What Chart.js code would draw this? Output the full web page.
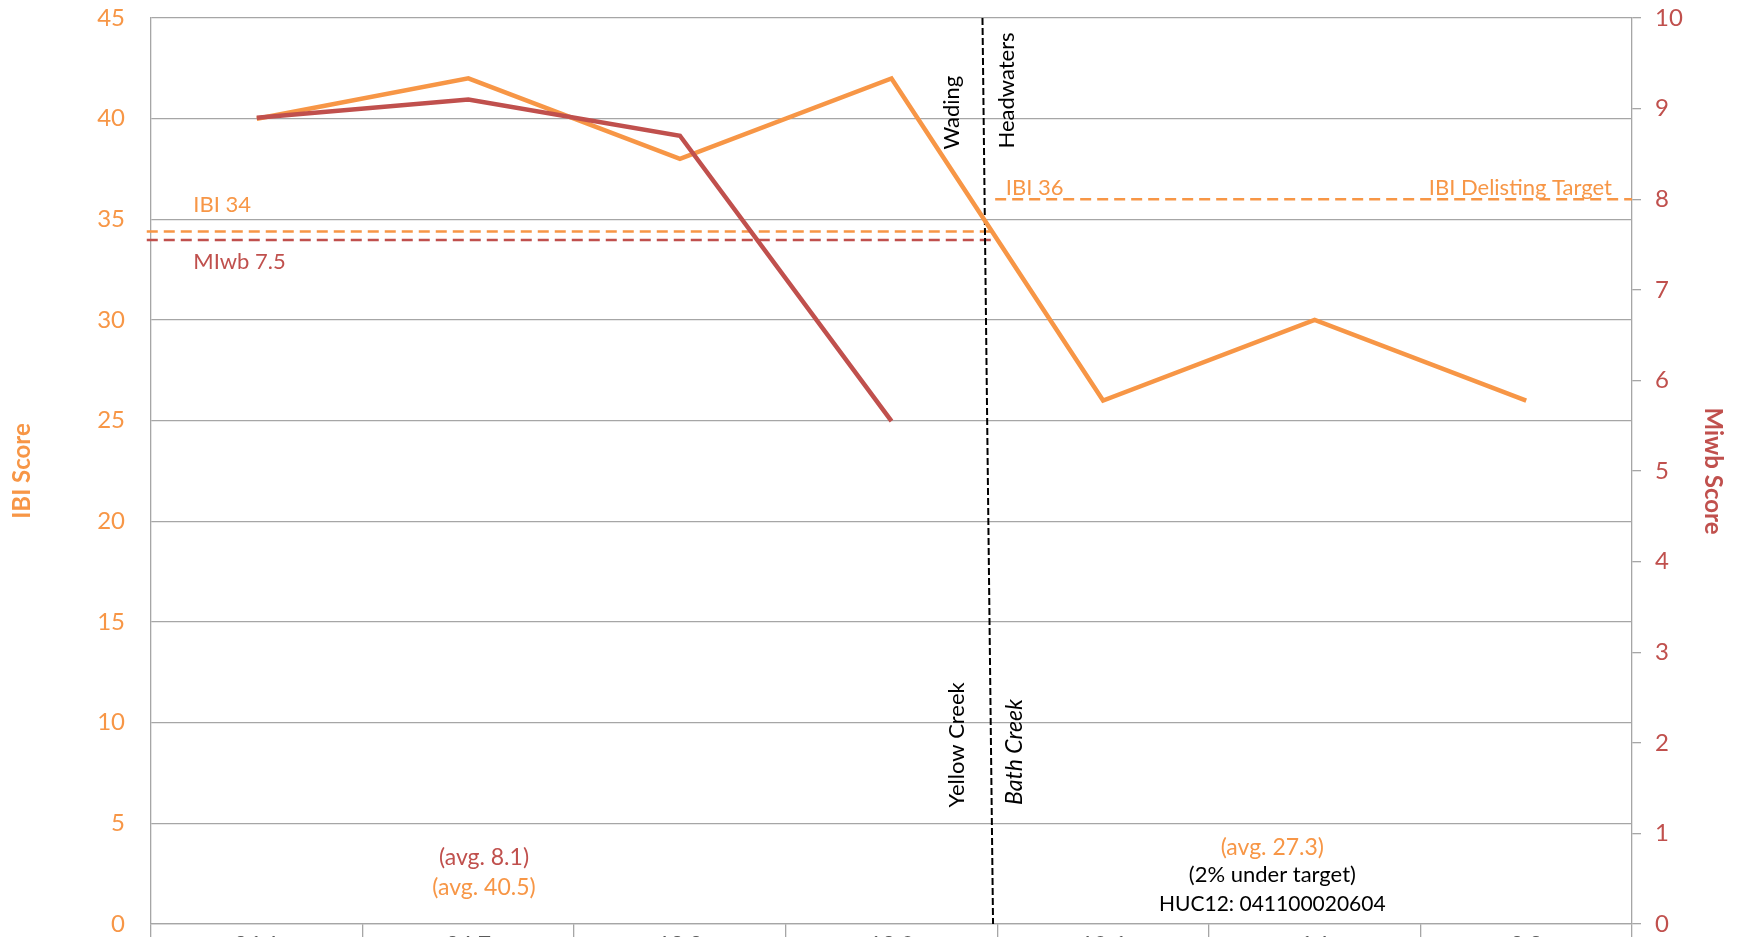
<!DOCTYPE html>
<html>
<head>
<meta charset="utf-8">
<script src="https://cdn.jsdelivr.net/npm/chart.js@4.4.0/dist/chart.umd.min.js"></script>
<style>
  html, body { margin: 0; padding: 0; overflow: hidden; background: #fff; }
  canvas { display: block; }
</style>
</head>
<body>
<canvas id="myChart" width="1739" height="964"></canvas>
<script>
// sites along the stream (labels are cut off at the bottom of the picture)
const sites = ['26.1', '24.7', '18.2', '12.9', '10.6', '6.1', '2.3'];
const ibiScores = [40, 42, 38, 42, 26, 30, 26];
const miwbScores = [8.9, 9.1, 8.7, 5.55, null, null, null];

const orange = '#F79646';
const red = '#C0504D';
const gridGray = '#a6a6a6';

// reference lines (values)
const ibiLeftTarget = 34.4;   // "IBI 34" line, left part
const miwbTarget = 7.55;      // "MIwb 7.5" line, right axis
const ibiDelisting = 36;      // "IBI 36" line, right part
const divideTop = 3.43;       // Wading / Headwaters divide, as category index
const divideBottom = 3.48;

// text notes: [text, x (category index), y (IBI value), colour, font, rotate, align]
const notes = [
  ['IBI 34', -0.3, 35.7, orange, '22px Lato', false, 'left'],
  ['MIwb 7.5', -0.3, 32.9, red, '22px Lato', false, 'left'],
  ['IBI 36', 3.54, 36.55, orange, '22px Lato', false, 'left'],
  ['IBI Delisting Target', 6.405, 36.55, orange, '22px Lato', false, 'right'],
  ['Wading', 3.286, 40.3, '#000', '22px Lato', true, 'center'],
  ['Headwaters', 3.546, 41.4, '#000', '22px Lato', true, 'center'],
  ['Yellow Creek', 3.31, 8.9, '#000', '22px Lato', true, 'center'],
  ['Bath Creek', 3.584, 8.54, '#000', 'italic 23px Lato', true, 'center'],
  ['(avg. 8.1)', 1.074, 3.28, red, '23px Lato', false, 'center'],
  ['(avg. 40.5)', 1.074, 1.79, orange, '23px Lato', false, 'center'],
  ['(avg. 27.3)', 4.8, 3.82, orange, '23px Lato', false, 'center'],
  ['(2% under target)', 4.8, 2.43, '#000', '22px Lato', false, 'center'],
  ['HUC12: 041100020604', 4.8, 0.99, '#000', '21px Lato', false, 'center']
];

function dashed(ctx, x1, y1, x2, y2, color, width, dash) {
  ctx.save();
  ctx.strokeStyle = color;
  ctx.lineWidth = width;
  ctx.setLineDash(dash);
  ctx.beginPath();
  ctx.moveTo(x1, y1);
  ctx.lineTo(x2, y2);
  ctx.stroke();
  ctx.restore();
}

const notesPlugin = {
  id: 'notes',
  beforeDatasetsDraw(chart) {
    const ctx = chart.ctx;
    const x = chart.scales.x, y = chart.scales.y, y1 = chart.scales.y1;
    const area = chart.chartArea;
    const xStart = x.getPixelForValue(-0.52);
    const xEndLeft = x.getPixelForValue(3.47);
    const xStartRight = x.getPixelForValue(3.49);
    dashed(ctx, xStart, y.getPixelForValue(ibiLeftTarget), xEndLeft, y.getPixelForValue(ibiLeftTarget), orange, 2.5, [11, 6]);
    dashed(ctx, xStart, y1.getPixelForValue(miwbTarget), xEndLeft, y1.getPixelForValue(miwbTarget), red, 2.5, [11, 6]);
    dashed(ctx, xStartRight, y.getPixelForValue(ibiDelisting), area.right, y.getPixelForValue(ibiDelisting), orange, 2.5, [11, 6]);
    dashed(ctx, x.getPixelForValue(divideTop), area.top, x.getPixelForValue(divideBottom), area.bottom, '#000', 2, [7, 3]);
  },
  afterDatasetsDraw(chart) {
    const ctx = chart.ctx;
    const x = chart.scales.x, y = chart.scales.y;
    notes.forEach(n => {
      ctx.save();
      ctx.translate(x.getPixelForValue(n[1]), y.getPixelForValue(n[2]));
      if (n[5]) ctx.rotate(-Math.PI / 2);
      ctx.font = n[4];
      ctx.fillStyle = n[3];
      ctx.textAlign = n[6];
      ctx.textBaseline = 'middle';
      ctx.fillText(n[0], 0, 0);
      ctx.restore();
    });
  }
};

const ctx = document.getElementById('myChart').getContext('2d');
const myChart = new Chart(ctx, {
  type: 'line',
  data: {
    labels: sites,
    datasets: [{
      label: 'Miwb Score',
      data: miwbScores,
      yAxisID: 'y1',
      borderColor: red,
      borderWidth: 4.5,
      pointRadius: 0,
      tension: 0,
      order: 0
    }, {
      label: 'IBI Score',
      data: ibiScores,
      yAxisID: 'y',
      borderColor: orange,
      borderWidth: 4.5,
      pointRadius: 0,
      tension: 0,
      order: 1
    }]
  },
  options: {
    responsive: false,
    animation: false,
    layout: { padding: { top: 18, left: 0, right: 0, bottom: 0 } },
    plugins: { legend: { display: false }, tooltip: { enabled: false } },
    scales: {
      x: {
        offset: true,
        grid: { offset: true, drawOnChartArea: false, drawTicks: true, tickLength: 20, color: gridGray, lineWidth: 1.3 },
        border: { color: gridGray, width: 1.3 },
        ticks: { font: { family: 'Lato', size: 23 }, color: '#595959', padding: -12, maxRotation: 0 },
        afterFit(scale) { scale.height = 40; }
      },
      y: {
        position: 'left',
        min: 0,
        max: 45,
        ticks: { stepSize: 5, font: { family: 'Lato', size: 24 }, color: orange, padding: 26 },
        grid: { color: gridGray, lineWidth: 1.3, drawTicks: false },
        border: { color: gridGray, width: 1.3 },
        title: { display: true, text: 'IBI Score', color: orange, font: { family: 'Lato', size: 24, weight: 'bold' }, padding: { top: 8, bottom: 0 } },
        afterFit(scale) {
          scale.width = 151;
          scale.paddingTop = 0;
          scale.paddingBottom = 0;
        }
      },
      y1: {
        position: 'right',
        min: 0,
        max: 10,
        ticks: { stepSize: 1, font: { family: 'Lato', size: 24 }, color: red, padding: 14 },
        grid: { drawOnChartArea: false, drawTicks: true, tickLength: 9, color: gridGray, lineWidth: 1.3 },
        border: { color: gridGray, width: 1.3 },
        title: { display: true, text: 'Miwb Score', color: red, font: { family: 'Lato', size: 24, weight: 'bold' }, padding: { top: 12, bottom: 0 } },
        afterFit(scale) {
          scale.width = 107;
          scale.paddingTop = 0;
          scale.paddingBottom = 0;
        }
      }
    }
  },
  plugins: [notesPlugin]
});
</script>
</body>
</html>
